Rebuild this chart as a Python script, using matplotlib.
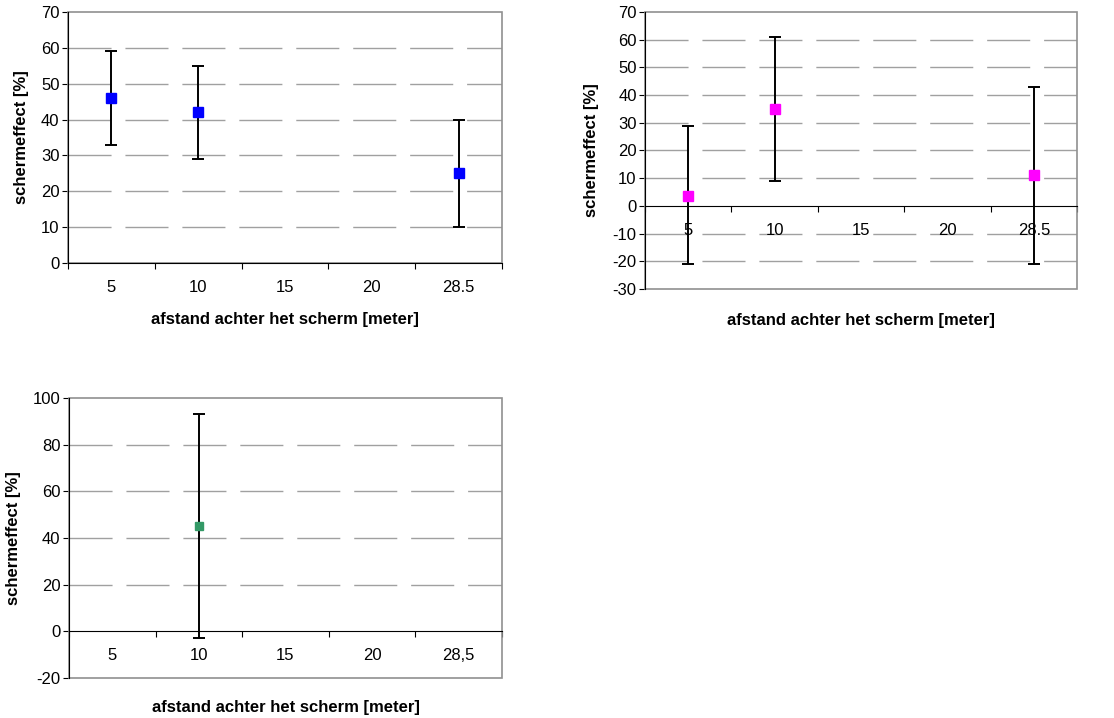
import numpy as np
import matplotlib
matplotlib.use("Agg")
import matplotlib.pyplot as plt
from matplotlib.patches import Rectangle

plt.rcParams["font.family"] = ["Liberation Sans", "DejaVu Sans"]
plt.rcParams["lines.scale_dashes"] = False

# categories on the x axis
cats_dot = ["5", "10", "15", "20", "28.5"]
cats_comma = ["5", "10", "15", "20", "28,5"]

# panel 1 (blue)
p1_mean = [46, 42, np.nan, np.nan, 25]
p1_low = [33, 29, np.nan, np.nan, 10]
p1_high = [59, 55, np.nan, np.nan, 40]

# panel 2 (magenta)
p2_mean = [3.5, 35, np.nan, np.nan, 11]
p2_low = [-21, 9, np.nan, np.nan, -21]
p2_high = [29, 61, np.nan, np.nan, 43]

# panel 3 (green)
p3_mean = [np.nan, 45, np.nan, np.nan, np.nan]
p3_low = [np.nan, -3, np.nan, np.nan, np.nan]
p3_high = [np.nan, 93, np.nan, np.nan, np.nan]

XLABEL = "afstand achter het scherm [meter]"
YLABEL = "schermeffect [%]"
FS = 12


def panel(ax, labels, mean, low, high, color, msize, ylim, ystep,
          xlab_y, ylab_x):
    x = np.arange(len(labels))
    mean = np.array(mean, dtype=float)
    yerr = [mean - np.array(low), np.array(high) - mean]
    ax.errorbar(x, mean, yerr=yerr, fmt="none", ecolor="black",
                elinewidth=1.4, capsize=4, capthick=1.4, zorder=3)
    ax.plot(x, mean, linestyle="none", marker="s", color=color,
            markersize=msize, zorder=4)

    ax.set_xlim(-0.5, len(labels) - 0.5)
    ax.set_ylim(*ylim)
    yt = np.arange(ylim[0], ylim[1] + 0.1, ystep)
    ax.set_yticks(yt)
    ax.set_yticklabels([str(int(v)) for v in yt])
    for v in yt:
        if v != 0 and v != ylim[0] and v != ylim[1]:
            ax.axhline(v, color="#a0a0a0", linewidth=1,
                       linestyle=(0, (31, 10)), zorder=1)

    for s in ax.spines.values():
        s.set_visible(False)
    ax.add_patch(Rectangle((0, 0), 1, 1, transform=ax.transAxes, fill=False,
                           edgecolor="#909090", linewidth=1.2, clip_on=False,
                           zorder=2))
    ax.spines["left"].set_visible(True)
    ax.spines["left"].set_color("black")
    ax.spines["bottom"].set_visible(True)
    ax.spines["bottom"].set_color("black")
    ax.spines["bottom"].set_position(("data", max(0, ylim[0])))

    ax.set_xticks(np.arange(len(labels) + 1) - 0.5)
    ax.set_xticklabels([])
    ax.set_xticks(x, minor=True)
    ax.set_xticklabels(labels, minor=True)
    ax.tick_params(axis="x", which="major", direction="out", length=4,
                   color="black")
    ax.tick_params(axis="x", which="minor", length=0, pad=12, labelsize=FS)
    ax.tick_params(axis="y", direction="out", length=4, labelsize=FS,
                   pad=2)

    ax.text(0.5, xlab_y, XLABEL, transform=ax.transAxes, ha="center",
            va="center", fontsize=FS, fontweight="bold")
    ax.text(ylab_x, 0.5, YLABEL, transform=ax.transAxes, ha="center",
            va="center", rotation=90, fontsize=FS, fontweight="bold")


fig = plt.figure(figsize=(11.14, 7.18), dpi=100)
ax1 = fig.add_axes([0.061, 0.6337, 0.3896, 0.3496])
ax2 = fig.add_axes([0.579, 0.5975, 0.3878, 0.3858])
ax3 = fig.add_axes([0.0619, 0.0557, 0.3887, 0.39])

panel(ax1, cats_dot, p1_mean, p1_low, p1_high, "#0000ff", 7.5,
      (0, 70), 10, -0.227, -0.106)
panel(ax2, cats_dot, p2_mean, p2_low, p2_high, "#ff00ff", 7.5,
      (-30, 70), 10, -0.112, -0.123)
panel(ax3, cats_comma, p3_mean, p3_low, p3_high, "#339966", 5.5,
      (-20, 100), 20, -0.107, -0.129)

fig.savefig("out.png", dpi=100)
